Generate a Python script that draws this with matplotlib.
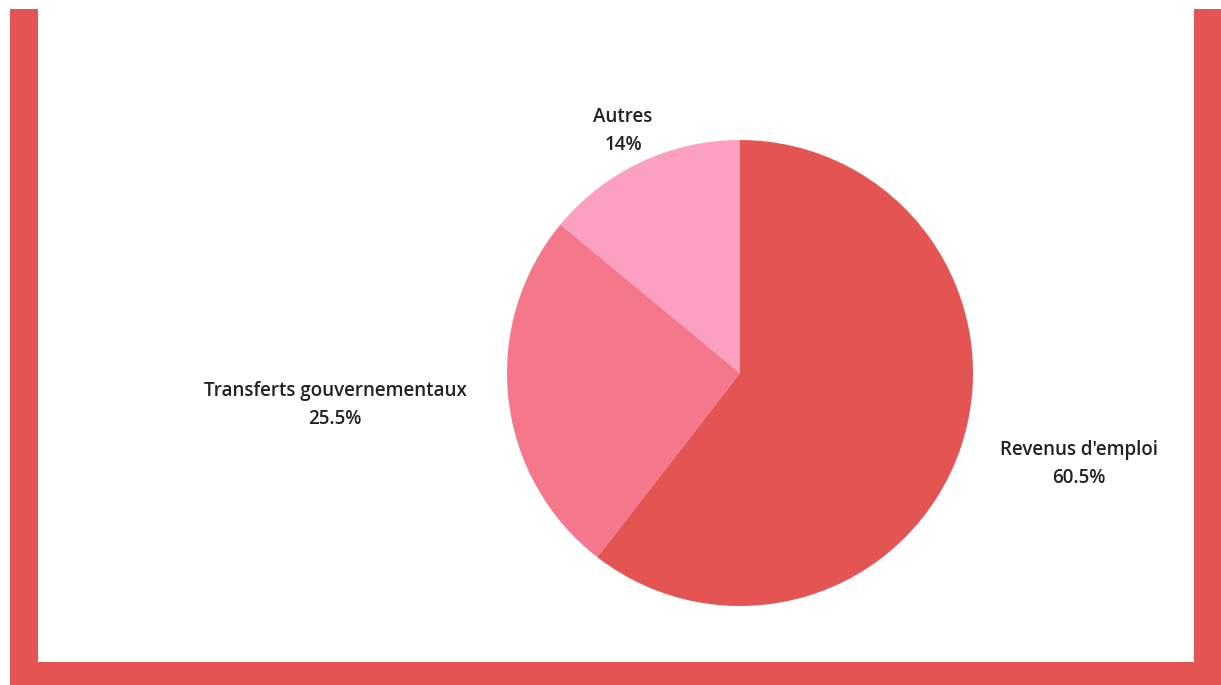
import matplotlib.pyplot as plt
import matplotlib.patches as mpatches
import numpy as np

labels = ["Revenus d'emploi", "Transferts gouvernementaux", "Autres"]
values = [60.5, 25.5, 14.0]
value_text = ["60.5%", "25.5%", "14%"]
colors = ["#E35452", "#F4778C", "#FBA0C0"]

W, H = 1221, 685
fig = plt.figure(figsize=(W / 100, H / 100), dpi=100)
ax = fig.add_axes([0, 0, 1, 1])

# red frame (left, right, bottom)
frame = "#E35452"
ax.add_patch(mpatches.Rectangle((10, 0), 28, H - 9, color=frame, lw=0))
ax.add_patch(mpatches.Rectangle((1194, 0), 27, H - 9, color=frame, lw=0))
ax.add_patch(mpatches.Rectangle((10, 0), W - 10, 23, color=frame, lw=0))

cx, cy, R = 740, 312, 233
wedges, _ = ax.pie(values, colors=colors, startangle=90, counterclock=False,
                   center=(cx, cy), radius=R, frame=True,
                   wedgeprops=dict(linewidth=0))
ax.set_xlim(0, W)
ax.set_ylim(0, H)
ax.set_aspect("equal")
ax.axis("off")

for w, lab, vt in zip(wedges, labels, value_text):
    ang = np.deg2rad((w.theta1 + w.theta2) / 2)
    x = cx + 1.18 * R * np.cos(ang)
    y = cy + 1.18 * R * np.sin(ang)
    if abs(np.cos(ang)) < 0.5:
        ha = "center"
        y -= 5
    elif np.cos(ang) > 0:
        ha = "left"
    else:
        ha = "right"
    ax.text(x, y - 2, f"{lab}\n{vt}", ha=ha, va="center", multialignment="center",
            fontsize=13.5, family="Open Sans", fontweight="semibold",
            color="#222222", linespacing=1.5)

fig.savefig("out.png", dpi=100)
